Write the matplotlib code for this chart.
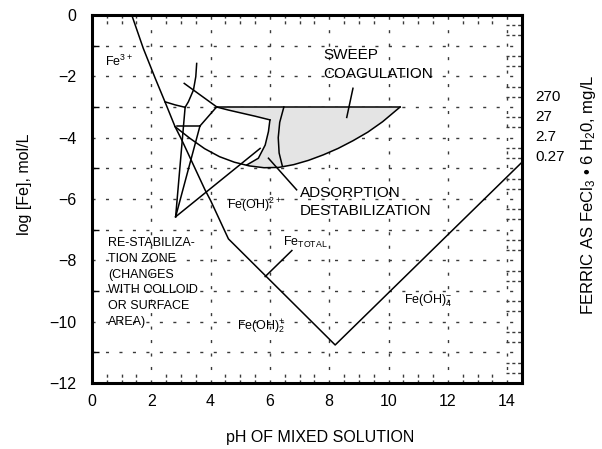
import numpy as np
import matplotlib
matplotlib.use("Agg")
import matplotlib.pyplot as plt

# DADOS
# curva Fe total
ph_total = [1.34, 1.73, 2.13, 2.46, 2.80, 3.03, 3.81, 4.00, 4.60, 8.20, 14.50]
log_total = [0.0, -1.09, -2.06, -2.83, -3.64, -4.08, -5.70, -6.05, -7.30, -10.76, -4.80]

# limite inferior da zona de sweep coagulation
ph_arco = [2.80, 3.30, 3.80, 4.30, 4.80, 5.30, 5.80, 6.30, 6.80, 7.30, 7.80, 8.30, 8.80, 9.30, 9.80, 10.39]
log_arco = [-3.64, -4.02, -4.36, -4.62, -4.80, -4.92, -4.98, -4.97, -4.88, -4.74, -4.56, -4.35, -4.10, -3.82, -3.48, -3.00]

# topo da zona (log = -3)
ph_topo = [4.20, 10.39]
log_topo = [-3.0, -3.0]

# arco interior e cunha (adsorption)
ph_arco_int = [4.20, 4.60, 5.05, 5.50, 6.00]
log_arco_int = [-3.00, -3.10, -3.20, -3.30, -3.42]
ph_cunha = [6.00, 5.95, 5.84, 5.61, 5.22]
log_cunha = [-3.42, -3.80, -4.24, -4.67, -4.89]

# curva "(" dentro da zona cinzenta
ph_parent = [6.47, 6.33, 6.28, 6.31, 6.42]
log_parent = [-3.00, -3.50, -4.00, -4.50, -4.93]

# fronteiras Fe3+ / Fe(OH)2+
ph_fe3 = [3.53, 3.50, 3.42, 3.25, 3.14]
log_fe3 = [-1.58, -2.01, -2.45, -2.83, -3.01]
ph_sag = [2.46, 2.80, 3.14]
log_sag = [-2.83, -2.93, -3.01]

# segmentos retos da zona de re-estabilizacao
segmentos = [
    ([3.11, 4.21], [-2.23, -3.00]),
    ([3.14, 2.82], [-3.01, -6.58]),
    ([4.20, 3.64], [-3.00, -3.62]),
    ([2.86, 3.64], [-3.62, -3.62]),
    ([3.64, 2.82], [-3.62, -6.58]),
    ([2.82, 5.67], [-6.58, -4.35]),
]

# linhas de chamada
chamadas = [
    ([8.80, 8.59], [-2.39, -3.34]),
    ([5.95, 6.90], [-4.67, -5.70]),
    ([6.74, 5.84], [-7.68, -8.53]),
]

# eixo direito (FeCl3.6H2O mg/L)
rotulos_dir = ["270", "27", "2.7", "0.27"]
y_dir = [-2.66, -3.32, -3.97, -4.62]

plt.rcParams["font.family"] = ["Liberation Sans", "DejaVu Sans"]
plt.rcParams["mathtext.fontset"] = "custom"
plt.rcParams["mathtext.rm"] = "Liberation Sans"
plt.rcParams["mathtext.it"] = "Liberation Sans:italic"

fig = plt.figure(figsize=(6.02, 4.49), dpi=100)
ax = fig.add_axes([92 / 602, 1 - 383 / 449, 430 / 602, 368 / 449])
ax.set_xlim(0, 14.5)
ax.set_ylim(-12, 0)

# grelha tracejada
cor_grelha = "#3a3a3a"
for y in range(-11, 0):
    ax.axhline(y, color=cor_grelha, lw=1.0, ls=(0, (2.2, 7.5)), zorder=1)
for x in range(2, 15, 2):
    ax.axvline(x, color=cor_grelha, lw=1.0, ls=(0, (2.2, 7.5)), zorder=1)

# marcas pequenas em cima/baixo e a direita
for x in np.arange(0.5, 14.5, 0.5):
    if x % 2 == 0:
        continue
    ax.plot([x, x], [0, -0.33], color=cor_grelha, lw=1.0, ls=(0, (2.2, 2)), zorder=1)
    ax.plot([x, x], [-12, -11.67], color=cor_grelha, lw=1.0, ls=(0, (2.2, 2)), zorder=1)
for k in range(-12, 0):
    for f in (1 / 3, 2 / 3):
        ax.plot([13.97, 14.5], [k + f, k + f], color=cor_grelha, lw=1.0, ls=(0, (2.2, 2)), zorder=1)

# zona cinzenta
arco = np.array([ph_arco, log_arco])
mask = arco[0] > ph_cunha[-1]
px = np.concatenate([ph_topo, arco[0][mask][::-1], ph_cunha[::-1], ph_arco_int[::-1]])
py = np.concatenate([log_topo, arco[1][mask][::-1], log_cunha[::-1], log_arco_int[::-1]])
ax.fill(px, py, color="#e4e4e4", lw=0, zorder=2)

lw = 1.1
ax.plot(ph_total, log_total, color="black", lw=lw, zorder=3)
ax.plot(ph_arco, log_arco, color="black", lw=lw, zorder=3)
ax.plot(ph_topo, log_topo, color="black", lw=lw, zorder=3)
ax.plot(ph_arco_int, log_arco_int, color="black", lw=lw, zorder=3)
ax.plot(ph_cunha, log_cunha, color="black", lw=lw, zorder=3)
ax.plot(ph_parent, log_parent, color="black", lw=lw, zorder=3)
ax.plot(ph_fe3, log_fe3, color="black", lw=lw, zorder=3)
ax.plot(ph_sag, log_sag, color="black", lw=lw, zorder=3)
for xs, ys in segmentos:
    ax.plot(xs, ys, color="black", lw=lw, zorder=3)
for xs, ys in chamadas:
    ax.plot(xs, ys, color="black", lw=lw, zorder=3)

# textos
ax.text(0.44, -1.5, "Fe$^{3+}$", fontsize=9, va="center", zorder=4)
ax.text(7.8, -1.62, "SWEEP\nCOAGULATION", fontsize=11, va="center", linespacing=1.45, zorder=4)
ax.text(7.02, -6.1, "ADSORPTION\nDESTABILIZATION", fontsize=11, va="center", linespacing=1.35, zorder=4)
ax.text(4.54, -6.2, "Fe(OH)$^{2+}$", fontsize=9, va="center", zorder=4)
ax.text(6.45, -7.42, "Fe$_{\\mathrm{TOTAL}}$", fontsize=9, va="center", zorder=4)
ax.text(4.88, -10.15, "Fe(OH)$_2^{+}$", fontsize=9, va="center", zorder=4)
ax.text(10.53, -9.33, "Fe(OH)$_4^{-}$", fontsize=9, va="center", zorder=4)
ax.text(0.55, -8.72, "RE-STABILIZA-\nTION ZONE\n(CHANGES\nWITH COLLOID\nOR SURFACE\nAREA)",
        fontsize=9, va="center", linespacing=1.42, zorder=4)

for r, y in zip(rotulos_dir, y_dir):
    ax.text(14.94, y, r, fontsize=11, va="center", ha="left", clip_on=False)
fig.text(589 / 602, 1 - 195 / 449, "FERRIC AS FeCl$_3$ \u2022 6 H$_2$0, mg/L", rotation=90,
         fontsize=12, ha="center", va="center")

# eixos
ax.set_xticks(range(0, 15, 2))
ax.set_yticks(range(-12, 1, 2))
ax.set_yticks(range(-11, 0, 2), minor=True)
ax.tick_params(axis="x", length=0, pad=8, labelsize=11.5)
ax.tick_params(axis="y", which="major", length=0, pad=11, labelsize=11.5)
ax.tick_params(axis="y", which="minor", direction="in", length=5, width=1)
ax.set_xlabel("pH OF MIXED SOLUTION", fontsize=11.5)
ax.set_ylabel("log [Fe], mol/L", fontsize=11.5)
ax.xaxis.set_label_coords(0.53, -0.128)
ax.yaxis.set_label_coords(-0.14, 0.54)
for s in ax.spines.values():
    s.set_linewidth(2.2)

fig.savefig("out.png", dpi=100)
